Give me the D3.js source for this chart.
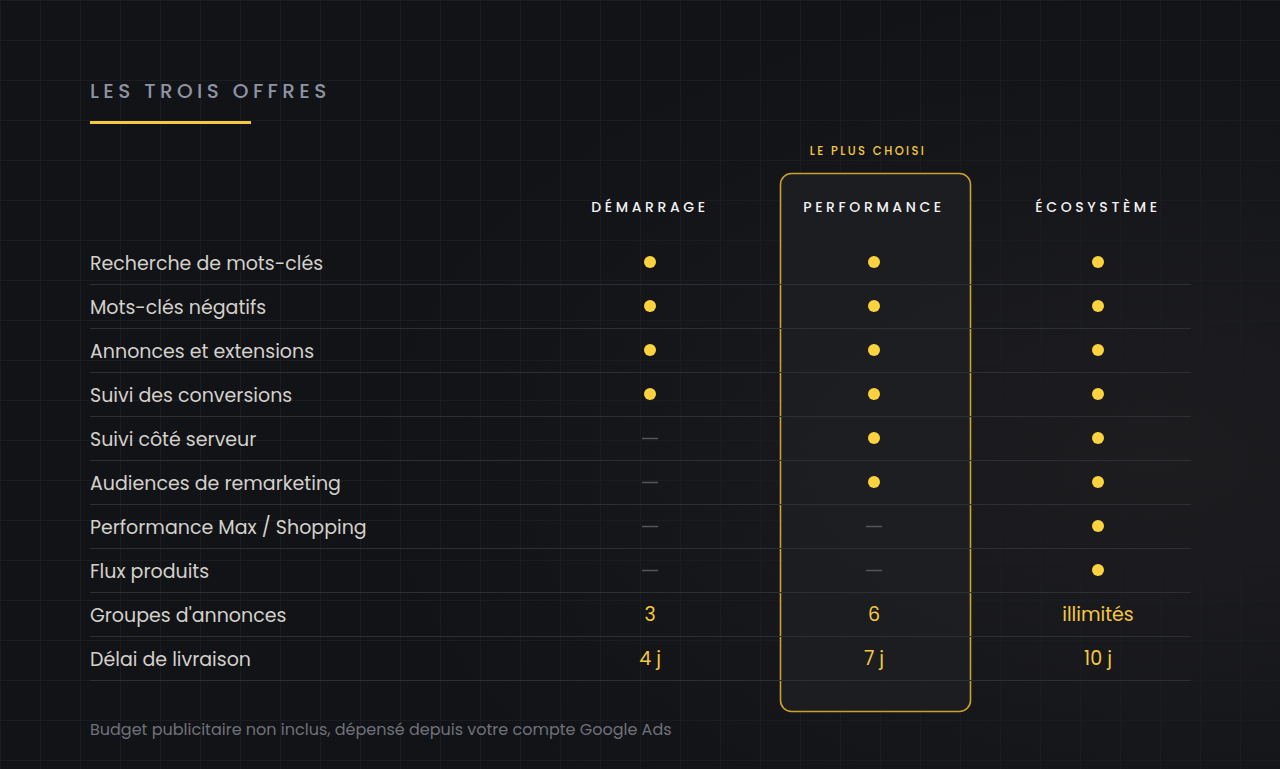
<!DOCTYPE html>
<html><head><meta charset="utf-8">
<script src="https://cdn.jsdelivr.net/npm/d3@7"></script>
<style>html,body{margin:0;background:#121317;}svg{display:block}</style>
</head><body><svg id="c" width="1280" height="769"></svg>
<script>
const title = "LES TROIS OFFRES";
const badge = "LE PLUS CHOISI";
const plans = ["DÉMARRAGE","PERFORMANCE","ÉCOSYSTÈME"];
const features = ["Recherche de mots-clés","Mots-clés négatifs","Annonces et extensions","Suivi des conversions","Suivi côté serveur","Audiences de remarketing","Performance Max / Shopping","Flux produits","Groupes d'annonces","Délai de livraison"];
// 1 = included, 0 = not included, string = value
const demarrage   = [1,1,1,1,0,0,0,0,"3","4 j"];
const performance = [1,1,1,1,1,1,0,0,"6","7 j"];
const ecosysteme  = [1,1,1,1,1,1,1,1,"illimités","10 j"];
const footnote = "Budget publicitaire non inclus, dépensé depuis votre compte Google Ads";
const values = [demarrage, performance, ecosysteme];

const svg = d3.select("#c");
const W=1280,H=769, font="Poppins, Lato, 'Open Sans', sans-serif";
const defs = svg.append("defs");
const rg = defs.append("radialGradient").attr("id","bgG").attr("cx","0.9").attr("cy","0.6").attr("r","0.6");
rg.append("stop").attr("offset","0").attr("stop-color","#1d1d20");
rg.append("stop").attr("offset","1").attr("stop-color","#121317");
svg.append("rect").attr("width",W).attr("height",H).attr("fill","url(#bgG)");
const grid = svg.append("g").attr("stroke","#1b1c21").attr("stroke-width",1);
d3.range(0,W+1,40).forEach(x=>grid.append("line").attr("x1",x+0.5).attr("x2",x+0.5).attr("y1",0).attr("y2",H));
d3.range(0,H+1,40).forEach(y=>grid.append("line").attr("y1",y+0.5).attr("y2",y+0.5).attr("x1",0).attr("x2",W));

svg.append("text").attr("x",90).attr("y",98).text(title).attr("font-family",font).attr("font-size",20)
  .attr("letter-spacing",4.4).attr("fill","#8e93a3").attr("font-weight",500);
svg.append("rect").attr("x",90).attr("y",121).attr("width",161).attr("height",3).attr("fill","#f5c842");

const x = d3.scalePoint().domain(plans).range([650,1098]);
const y = d3.scaleBand().domain(features).range([240,680]);

svg.append("rect").attr("x",780.5).attr("y",173.5).attr("width",190).attr("height",538).attr("rx",11)
  .attr("fill","#1e1f23").attr("fill-opacity",0.8).attr("stroke","#c9a22c").attr("stroke-width",1.6);
svg.append("text").attr("x",x(plans[1])-6).attr("y",155).attr("text-anchor","middle").text(badge)
  .attr("font-family",font).attr("font-size",11.5).attr("letter-spacing",2.4).attr("fill","#f5c842").attr("font-weight",500);

svg.selectAll("text.plan").data(plans).join("text").attr("class","plan")
  .attr("x",d=>x(d)).attr("y",212).attr("text-anchor","middle").text(d=>d)
  .attr("font-family",font).attr("font-size",14).attr("letter-spacing",3.6).attr("fill","#f2f2f2").attr("font-weight",500);

const rows = svg.selectAll("g.row").data(features).join("g").attr("class","row");
rows.append("line").attr("x1",90).attr("x2",1191).attr("y1",d=>y(d)+y.bandwidth()+0.5).attr("y2",d=>y(d)+y.bandwidth()+0.5)
  .attr("stroke","#2e2f34");
rows.append("text").attr("x",90).attr("y",d=>y(d)+y.bandwidth()/2+8).text(d=>d)
  .attr("font-family",font).attr("font-size",19).attr("fill","#d4d1cb");

values.forEach((vals,pi)=>{
  const cx = x(plans[pi]);
  vals.forEach((v,i)=>{
    const cy = y(features[i])+y.bandwidth()/2;
    if(v===1) svg.append("circle").attr("cx",cx).attr("cy",cy).attr("r",6).attr("fill","#fdd23f");
    else if(v===0) svg.append("line").attr("x1",cx-8).attr("x2",cx+8).attr("y1",cy+0.5).attr("y2",cy+0.5).attr("stroke","#55565a").attr("stroke-width",1.5);
    else svg.append("text").attr("x",cx).attr("y",cy+7).attr("text-anchor","middle").text(v)
      .attr("font-family",font).attr("font-size",19).attr("fill","#f5c842");
  });
});

svg.append("text").attr("x",90).attr("y",735).text(footnote).attr("font-family",font).attr("font-size",16).attr("fill","#6f717a");
</script></body></html>
